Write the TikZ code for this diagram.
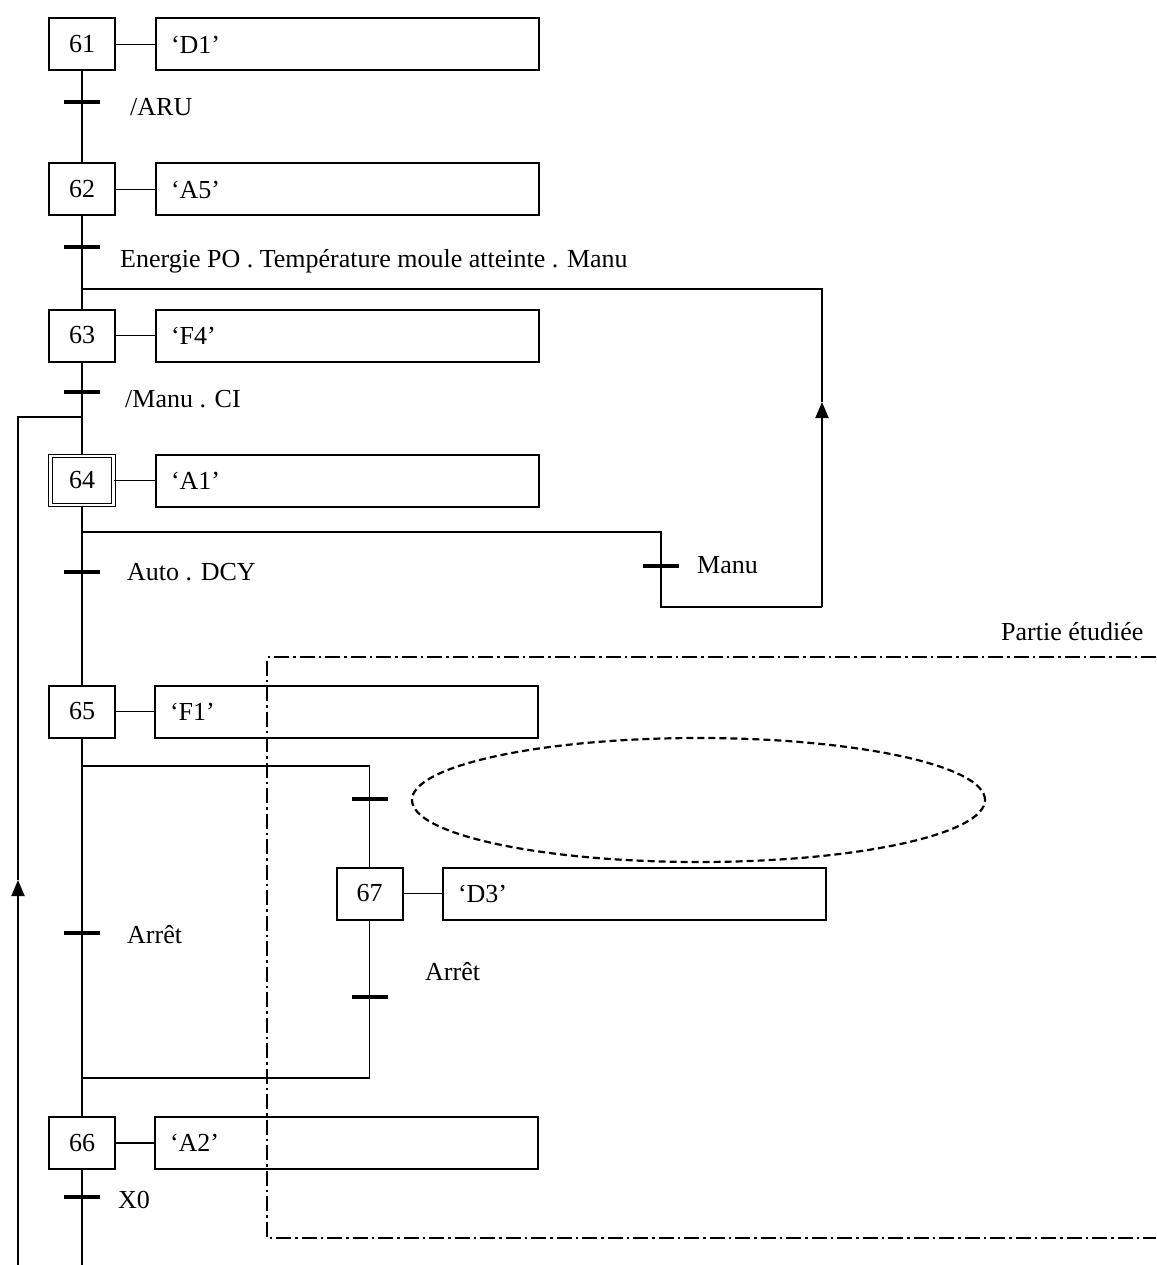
\documentclass[tikz,border=0pt]{standalone}
\usepackage{fontspec}
\setmainfont{Liberation Serif}
\usetikzlibrary{arrows.meta,shapes.geometric}
\begin{document}
\begin{tikzpicture}[x=1pt,y=-1pt,
 every node/.style={font=\fontsize{26}{31}\selectfont},
 stepbox/.style={draw,line width=2pt,minimum width=66pt,minimum height=52pt,inner sep=0pt},
 actbox/.style={draw,line width=2pt,minimum height=52pt,text width=353pt,inner xsep=15pt,inner ysep=0pt,align=left,anchor=west},
 link/.style={line width=1.9pt},
 bar/.style={line width=4.5pt},
 lbl/.style={anchor=base west,inner sep=0pt},
 ddot/.style={line width=2.2pt,dash pattern=on 15pt off 4pt on 2.5pt off 4pt},
 tip/.style={-{Triangle[length=16pt,width=13pt]}}
]
\useasboundingbox (0,0) rectangle (1156,1265);
\fill[white] (0,0) rectangle (1156,1265);

% steps
\node[stepbox] (s61) at (82,44.5) {\raisebox{-4pt}{61}};
\node[stepbox] (s62) at (82,189.5) {\raisebox{-4pt}{62}};
\node[stepbox] (s63) at (82,335.5) {\raisebox{-4pt}{63}};
\node[stepbox,line width=1.3pt,double,double distance=2.2pt,minimum width=63pt,minimum height=49pt] (s64) at (82,480.5) {\raisebox{-4pt}{64}};
\node[stepbox] (s65) at (82,711.5) {\raisebox{-4pt}{65}};
\node[stepbox] (s66) at (82,1143) {\raisebox{-4pt}{66}};
\node[stepbox] (s67) at (369.5,893.5) {\raisebox{-4pt}{67}};

% actions
\node[actbox] (a61) at (155,44.5) {‘D1’};
\node[actbox] (a62) at (155,189.5) {‘A5’};
\node[actbox] (a63) at (155,335.5) {‘F4’};
\node[actbox] (a64) at (155,480.5) {‘A1’};
\node[actbox] (a65) at (154,711.5) {‘F1’};
\node[actbox] (a66) at (154,1143) {‘A2’};
\node[actbox] (a67) at (442,893.5) {‘D3’};

\foreach \n in {61,62,63,64,65,66,67}{\draw[link] (s\n) -- (a\n);}

% coordinates
\coordinate (j1) at (82,289);
\coordinate (r1) at (822,289);
\coordinate (r2) at (822,607);
\coordinate (arrR) at (822,402);
\coordinate (d64) at (82,532);
\coordinate (m0) at (661,532);
\coordinate (m1) at (661,607);
\coordinate (l0) at (82,417);
\coordinate (l1) at (18,417);
\coordinate (l2) at (18,1265);
\coordinate (arrL) at (18,880);
\coordinate (bot) at (82,1265);
\coordinate (d65) at (82,766);
\coordinate (b1) at (369.5,766);
\coordinate (c1) at (369.5,1078);
\coordinate (c0) at (82,1078);

% main line
\draw[link] (s61) -- (s62);
\draw[link] (s62) -- (s63);
\draw[link] (s63) -- (s64);
\draw[link] (s64) -- (s65);
\draw[link] (s65) -- (s66);
\draw[link] (s66) -- (bot);

% Manu loop
\draw[link] (j1) -- (r1) -- (arrR);
\draw[link,tip] (r2) -- (arrR);
\draw[link] (d64) -- (m0) -- (m1) -- (r2);

% left return loop
\draw[link] (l0) -- (l1) -- (arrL);
\draw[link,tip] (l2) -- (arrL);

% parallel branch
\draw[link] (d65) -- (b1) -- (s67);
\draw[link] (s67) -- (c1) -- (c0);

% transitions
\coordinate (t1) at (82,102);
\coordinate (t2) at (82,247);
\coordinate (t3) at (82,392);
\coordinate (t4) at (82,572);
\coordinate (t5) at (661,566);
\coordinate (t6) at (369.5,799);
\coordinate (t7) at (82,933);
\coordinate (t8) at (369.5,997);
\coordinate (t9) at (82,1197);
\foreach \t in {t1,t2,t3,t4,t5,t6,t7,t8,t9}{\draw[bar] ([xshift=-18pt]\t) -- ([xshift=18pt]\t);}

% labels
\node[lbl] (L1) at (130,116) {/ARU};
\node[lbl] (L2) at (120,267) {Energie PO . Température moule atteinte . Manu};
\node[lbl] (L3) at (125,407) {/Manu . CI};
\node[lbl] (L4) at (127,580) {Auto . DCY};
\node[lbl] (L5) at (697,573) {Manu};
\node[lbl] (L6) at (127,943) {Arrêt};
\node[lbl] (L7) at (425,980) {Arrêt};
\node[lbl] (L8) at (118,1208) {X0};
\node[lbl] (L9) at (1001,640) {Partie étudiée};

% condition ellipse
\node[draw,ellipse,line width=2.2pt,dash pattern=on 7pt off 4pt,minimum width=573pt,minimum height=124pt,inner sep=0pt] (cond) at (698.5,800) {};

% studied part frame
\draw[ddot] (1156,657) -- (267,657) -- (267,1238) -- (1156,1238);
\end{tikzpicture}
\end{document}
